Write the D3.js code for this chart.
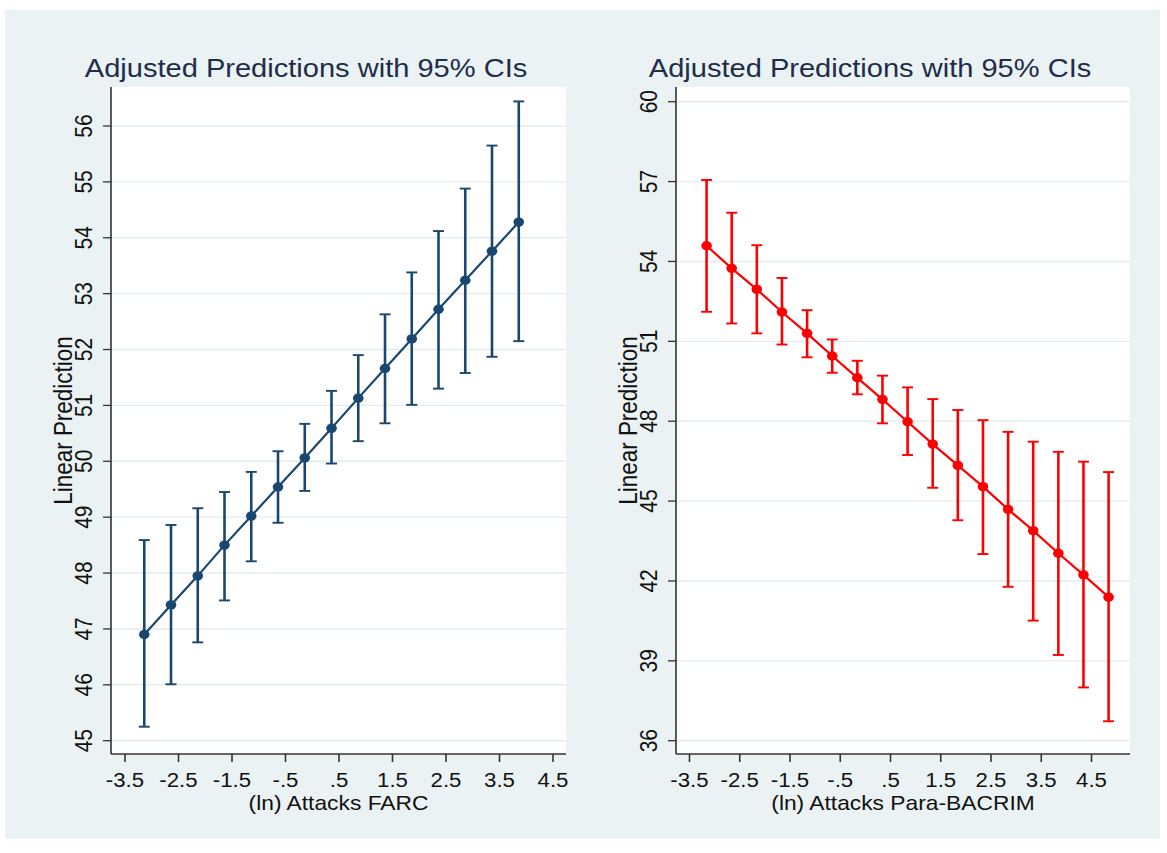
<!DOCTYPE html>
<html>
<head>
  <meta charset="utf-8">
  <script src="https://cdn.jsdelivr.net/npm/d3@7"></script>
  <style>
    body { margin: 0; background: #fff; }
    text { font-family: "Liberation Sans", Arial, sans-serif; }
  </style>
</head>
<body>
<script>
  // values
  var xTicks = [-3.5, -2.5, -1.5, -0.5, 0.5, 1.5, 2.5, 3.5, 4.5];
  var xTickLabels = ["-3.5", "-2.5", "-1.5", "-.5", ".5", "1.5", "2.5", "3.5", "4.5"];

  var farcX   = [-3.14, -2.64, -2.14, -1.64, -1.14, -0.64, -0.14, 0.36, 0.86, 1.36, 1.86, 2.36, 2.86, 3.36, 3.86];
  var farcFit = [46.90, 47.43, 47.95, 48.50, 49.02, 49.54, 50.06, 50.59, 51.13, 51.66, 52.19, 52.72, 53.24, 53.76, 54.28];
  var farcLo  = [45.25, 46.01, 46.76, 47.51, 48.21, 48.90, 49.47, 49.96, 50.36, 50.68, 51.01, 51.30, 51.58, 51.87, 52.15];
  var farcHi  = [48.59, 48.86, 49.16, 49.45, 49.81, 50.18, 50.67, 51.26, 51.90, 52.63, 53.38, 54.12, 54.88, 55.65, 56.44];
  var farcYTicks = [45, 46, 47, 48, 49, 50, 51, 52, 53, 54, 55, 56];

  var bacX   = [-3.16, -2.66, -2.16, -1.66, -1.16, -0.66, -0.16, 0.34, 0.84, 1.34, 1.84, 2.34, 2.84, 3.34, 3.84, 4.34, 4.84];
  var bacFit = [54.59, 53.74, 52.95, 52.10, 51.30, 50.45, 49.63, 48.82, 47.98, 47.14, 46.34, 45.54, 44.69, 43.89, 43.04, 42.23, 41.39];
  var bacLo  = [52.11, 51.67, 51.30, 50.88, 50.40, 49.82, 49.01, 47.92, 46.73, 45.50, 44.28, 43.01, 41.78, 40.51, 39.22, 38.00, 36.73];
  var bacHi  = [57.06, 55.83, 54.61, 53.38, 52.17, 51.07, 50.27, 49.71, 49.27, 48.83, 48.42, 48.04, 47.60, 47.23, 46.85, 46.48, 46.09];
  var bacYTicks = [36, 39, 42, 45, 48, 51, 54, 57, 60];

  var W = 1167, H = 853, SX = 1.14;   // text in the picture is stretched sideways

  var svg = d3.select("body").append("svg")
    .attr("width", W).attr("height", H);

  // graph region
  svg.append("rect")
    .attr("x", 5).attr("y", 10).attr("width", 1155).attr("height", 829)
    .attr("fill", "#eaf2f3");

  function stretched(g, x, y, rot) {
    return g.append("text")
      .attr("transform", "translate(" + x + "," + y + ") scale(" + SX + ",1)" + (rot ? " rotate(-90)" : ""));
  }

  function drawPanel(p) {
    var g = svg.append("g");
    var x = d3.scaleLinear().domain([-3.5, 4.5]).range(p.xRange);
    var y = d3.scaleLinear().domain(p.yDomain).range(p.yRange);

    g.append("rect")
      .attr("x", p.left).attr("y", p.top)
      .attr("width", p.right - p.left).attr("height", p.bottom - p.top)
      .attr("fill", "#fff");

    // gridlines
    g.selectAll(".grid").data(p.yTicks).enter().append("line")
      .attr("x1", p.left).attr("x2", p.right)
      .attr("y1", function (d) { return y(d); }).attr("y2", function (d) { return y(d); })
      .attr("stroke", "#e3edf0").attr("stroke-width", 1.4);

    // axes
    g.append("line").attr("x1", p.left).attr("x2", p.left).attr("y1", p.top).attr("y2", p.bottom)
      .attr("stroke", "#333").attr("stroke-width", 1.6);
    g.append("line").attr("x1", p.left).attr("x2", p.right).attr("y1", p.bottom).attr("y2", p.bottom)
      .attr("stroke", "#333").attr("stroke-width", 1.3);

    g.selectAll(".yt").data(p.yTicks).enter().append("line")
      .attr("x1", p.left - 8).attr("x2", p.left)
      .attr("y1", function (d) { return y(d); }).attr("y2", function (d) { return y(d); })
      .attr("stroke", "#333").attr("stroke-width", 1.3);
    p.yTicks.forEach(function (d) {
      stretched(g, p.left - 19, y(d), true)
        .attr("text-anchor", "middle").attr("font-size", 21).attr("fill", "#111")
        .text(d);
    });

    g.selectAll(".xt").data(xTicks).enter().append("line")
      .attr("x1", function (d) { return x(d); }).attr("x2", function (d) { return x(d); })
      .attr("y1", p.bottom).attr("y2", p.bottom + 8)
      .attr("stroke", "#333").attr("stroke-width", 1.6);
    xTicks.forEach(function (d, i) {
      stretched(g, x(d), p.bottom + 32.5, false)
        .attr("text-anchor", "middle").attr("font-size", 19.5).attr("fill", "#111")
        .text(xTickLabels[i]);
    });

    // titles
    stretched(g, p.titleX, 77, false)
      .attr("text-anchor", "middle").attr("font-size", 25.5).attr("fill", "#1e2d4a")
      .text("Adjusted Predictions with 95% CIs");
    stretched(g, (p.left + p.right) / 2, p.bottom + 56, false)
      .attr("text-anchor", "middle").attr("font-size", 20).attr("fill", "#111")
      .text(p.xTitle);
    stretched(g, p.left - 39, (p.top + p.bottom) / 2, true)
      .attr("text-anchor", "middle").attr("font-size", 22.5).attr("fill", "#111")
      .text("Linear Prediction");

    // confidence intervals
    var idx = d3.range(p.xs.length);
    g.selectAll(".ci").data(idx).enter().append("line")
      .attr("x1", function (i) { return x(p.xs[i]); }).attr("x2", function (i) { return x(p.xs[i]); })
      .attr("y1", function (i) { return y(p.lo[i]); }).attr("y2", function (i) { return y(p.hi[i]); })
      .attr("stroke", p.color).attr("stroke-width", 2.6);
    [p.lo, p.hi].forEach(function (arr) {
      g.selectAll(null).data(idx).enter().append("line")
        .attr("x1", function (i) { return x(p.xs[i]) - 5.5; }).attr("x2", function (i) { return x(p.xs[i]) + 5.5; })
        .attr("y1", function (i) { return y(arr[i]); }).attr("y2", function (i) { return y(arr[i]); })
        .attr("stroke", p.color).attr("stroke-width", 1.9);
    });

    // connected fit
    var line = d3.line()
      .x(function (i) { return x(p.xs[i]); })
      .y(function (i) { return y(p.fit[i]); });
    g.append("path").datum(idx).attr("d", line)
      .attr("fill", "none").attr("stroke", p.color).attr("stroke-width", 2.2);
    g.selectAll(".pt").data(idx).enter().append("ellipse")
      .attr("cx", function (i) { return x(p.xs[i]); })
      .attr("cy", function (i) { return y(p.fit[i]); })
      .attr("rx", 5.3).attr("ry", 4.7)
      .attr("fill", p.color);
  }

  drawPanel({
    left: 111, right: 566, top: 87, bottom: 754,
    xRange: [125, 553], yDomain: [45, 56], yRange: [740.7, 126],
    yTicks: farcYTicks, xs: farcX, fit: farcFit, lo: farcLo, hi: farcHi,
    color: "#1a476f", titleX: 306, xTitle: "(ln) Attacks FARC"
  });

  drawPanel({
    left: 676, right: 1130, top: 87, bottom: 754,
    xRange: [689.5, 1091.5], yDomain: [36, 60], yRange: [740.7, 101.7],
    yTicks: bacYTicks, xs: bacX, fit: bacFit, lo: bacLo, hi: bacHi,
    color: "#ff0000", titleX: 870, xTitle: "(ln) Attacks Para-BACRIM"
  });
</script>
</body>
</html>
